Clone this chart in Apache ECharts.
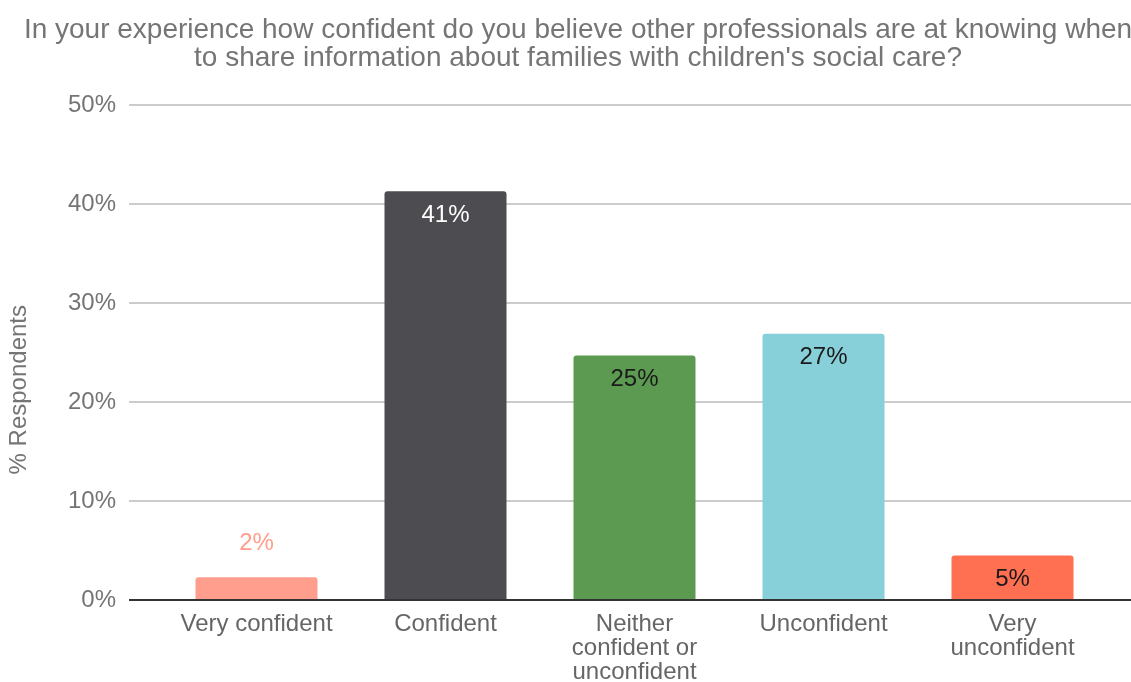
<!DOCTYPE html>
<html>
<head>
<meta charset="utf-8">
<script src="https://cdn.jsdelivr.net/npm/echarts@6/dist/echarts.min.js"></script>
<style>
  html, body { margin: 0; padding: 0; background: #fff; }
  #chart { width: 1131px; height: 682px; }
</style>
</head>
<body>
<div id="chart"></div>
<script>
// Survey responses, share of respondents per answer
const categories = ['Very confident', 'Confident', 'Neither\nconfident or\nunconfident', 'Unconfident', 'Very\nunconfident'];
const shares = [2.3, 41.3, 24.7, 26.9, 4.5];
const barColors = ['#ff9e8c', '#4d4c51', '#5c9a52', '#88d0d9', '#ff6f51'];
const labelColors = ['#ff9e8c', '#ffffff', '#1a1a1a', '#1a1a1a', '#1a1a1a'];
const labelInside = [false, true, true, true, true];
const yTicks = [0, 10, 20, 30, 40, 50];

const FONT = '"Liberation Sans", Arial, sans-serif';
const chart = echarts.init(document.getElementById('chart'));

const barData = shares.map((v, i) => ({
  value: v,
  itemStyle: { color: barColors[i], borderRadius: [3, 3, 0, 0] },
  label: {
    show: true,
    position: labelInside[i] ? 'insideTop' : 'top',
    distance: labelInside[i] ? 12 : 22,
    color: labelColors[i],
    fontSize: 24,
    fontFamily: FONT,
    formatter: p => Math.round(p.value) + '%'
  }
}));

chart.setOption({
  animation: false,
  title: {
    text: "In your experience how confident do you believe other professionals are at knowing when\nto share information about families with children's social care?",
    left: 573,
    textAlign: 'center',
    top: 11,
    textStyle: { color: '#757575', fontSize: 28, fontWeight: 'normal', fontFamily: FONT, lineHeight: 28 }
  },
  graphic: [{
    type: 'text',
    left: 7,
    top: 305,
    rotation: Math.PI / 2,
    style: { text: '% Respondents', fill: '#757575', font: '24px ' + FONT }
  }],
  grid: [
    // full-width grid carrying gridlines, y labels and baseline
    { left: 129, right: 0, top: 105, bottom: 82, outerBoundsMode: 'none', containLabel: false },
    // inner grid carrying the bars
    { left: 162, right: 24, top: 105, bottom: 82, outerBoundsMode: 'none', containLabel: false }
  ],
  xAxis: [
    {
      gridIndex: 0, type: 'value', min: 0, max: 1, show: true,
      axisLine: { show: false }, axisTick: { show: false }, axisLabel: { show: false }, splitLine: { show: false }
    },
    {
      gridIndex: 1, type: 'category', data: categories,
      axisLine: { show: false }, axisTick: { show: false },
      axisLabel: { color: '#666666', fontSize: 24, fontFamily: FONT, lineHeight: 24, margin: 12, interval: 0 }
    }
  ],
  yAxis: [
    {
      gridIndex: 0, type: 'value', min: yTicks[0], max: yTicks[yTicks.length - 1], interval: 10,
      axisLine: { show: false }, axisTick: { show: false },
      axisLabel: { color: '#757575', fontSize: 24, fontFamily: FONT, margin: 13, formatter: v => v + '%' },
      splitLine: { lineStyle: { color: '#cccccc', width: 2 } }
    },
    {
      gridIndex: 1, type: 'value', min: yTicks[0], max: yTicks[yTicks.length - 1], interval: 10, show: false
    }
  ],
  series: [
    {
      type: 'bar', xAxisIndex: 1, yAxisIndex: 1,
      barWidth: 122, data: barData, z: 3
    },
    {
      // baseline along 0%
      type: 'line', xAxisIndex: 0, yAxisIndex: 0, data: [[0, 0], [1, 0]],
      symbol: 'none', lineStyle: { color: '#333333', width: 2 }, z: 5, silent: true
    }
  ]
});
</script>
</body>
</html>
